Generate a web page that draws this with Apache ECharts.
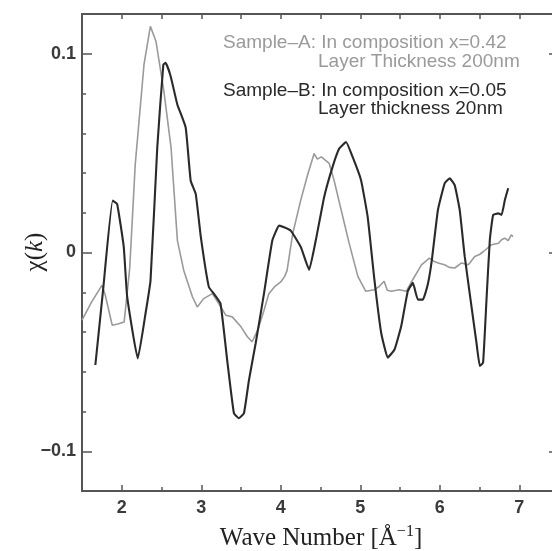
<!DOCTYPE html>
<html>
<head>
<meta charset="utf-8">
<script src="https://cdn.jsdelivr.net/npm/echarts@6/dist/echarts.min.js"></script>
<style>
html,body{margin:0;padding:0;background:#fff;}
#chart{width:552px;height:551px;}
</style>
</head>
<body>
<div id="chart"></div>
<script>
// Sample-A (gray): wave number k and chi(k)
const kA = [1.50,1.62,1.75,1.79,1.88,1.95,2.03,2.10,2.17,2.28,2.36,2.43,2.53,2.62,2.70,2.78,2.89,2.95,3.03,3.14,3.22,3.31,3.39,3.50,3.58,3.64,3.71,3.79,3.85,3.92,4.00,4.05,4.08,4.15,4.25,4.34,4.42,4.46,4.51,4.61,4.67,4.76,4.86,4.97,5.07,5.18,5.24,5.30,5.34,5.39,5.49,5.58,5.66,5.77,5.87,5.93,5.98,6.06,6.12,6.19,6.27,6.36,6.44,6.50,6.55,6.65,6.74,6.78,6.82,6.86,6.90,6.92];
const chiA = [-0.034,-0.025,-0.0165,-0.021,-0.0366,-0.036,-0.035,-0.008,0.0445,0.0946,0.1138,0.1063,0.0812,0.0528,0.0060,-0.0090,-0.0224,-0.0274,-0.0232,-0.0207,-0.0257,-0.0316,-0.0324,-0.0374,-0.0424,-0.0449,-0.0391,-0.0291,-0.0207,-0.0173,-0.0148,-0.0120,-0.0090,0.0094,0.0261,0.0394,0.0498,0.0470,0.0481,0.0448,0.0364,0.0214,0.0047,-0.0120,-0.0195,-0.0187,-0.0170,-0.0145,-0.0190,-0.0195,-0.0187,-0.0195,-0.0137,-0.0062,-0.0028,-0.0045,-0.0053,-0.0062,-0.0075,-0.0078,-0.0053,-0.0062,-0.0020,-0.0010,0.0005,0.0039,0.0047,0.0065,0.0072,0.0060,0.0089,0.0080];

// Sample-B (black)
const kB = [1.668,1.765,1.886,1.942,2.025,2.068,2.202,2.299,2.362,2.447,2.523,2.552,2.615,2.699,2.804,2.867,2.931,2.994,3.095,3.158,3.242,3.326,3.411,3.473,3.537,3.600,3.684,3.789,3.894,3.979,4.042,4.126,4.253,4.357,4.442,4.547,4.652,4.736,4.821,4.904,5.010,5.093,5.178,5.263,5.346,5.431,5.515,5.598,5.662,5.725,5.788,5.850,5.900,5.977,6.062,6.125,6.188,6.251,6.314,6.399,6.462,6.504,6.545,6.588,6.630,6.672,6.735,6.778,6.819,6.861];
const chiB = [-0.0566,-0.0190,0.0261,0.0244,0.0029,-0.0222,-0.0533,-0.0307,-0.0140,0.0530,0.0946,0.0954,0.0887,0.0745,0.0629,0.0361,0.0294,0.0080,-0.0173,-0.0207,-0.0257,-0.0541,-0.0809,-0.0834,-0.0809,-0.0642,-0.0458,-0.0207,0.0060,0.0135,0.0127,0.0110,0.0027,-0.0087,0.0064,0.0281,0.0431,0.0523,0.0556,0.0481,0.0364,0.0180,-0.0137,-0.0404,-0.0529,-0.0488,-0.0371,-0.0195,-0.0153,-0.0237,-0.0237,-0.0160,-0.0040,0.0214,0.0348,0.0373,0.0339,0.0214,-0.0020,-0.0271,-0.0454,-0.0571,-0.0554,-0.0237,0.0064,0.0189,0.0197,0.0189,0.0264,0.0323];

const xTickLabels = [2,3,4,5,6,7];
const yTickLabels = [-0.1,0,0.1];

const legendA = ['Sample\u2013A: In composition x=0.42', 'Layer Thickness 200nm'];
const legendB = ['Sample\u2013B: In composition x=0.05', 'Layer thickness 20nm'];

const dataA = kA.map((k,i)=>[k,chiA[i]]);
const dataB = kB.map((k,i)=>[k,chiB[i]]);

const axisColor = '#555';
const xMin = 1.5, xMax = 7.5, yMin = -0.12, yMax = 0.12;

function yFmt(v){
  if (Math.abs(v) < 1e-9) return '0';
  if (Math.abs(v - 0.1) < 1e-9) return '0.1';
  if (Math.abs(v + 0.1) < 1e-9) return '\u22120.1';
  return '';
}
function xFmt(v){
  return Math.abs(v - Math.round(v)) < 1e-6 && xTickLabels.indexOf(Math.round(v)) >= 0 ? String(Math.round(v)) : '';
}
const labelStyle = {color:'#3a3a3a', fontFamily:'Liberation Sans', fontSize:18, fontWeight:'bold'};
const lineOn = {onZero:false, lineStyle:{color:axisColor, width:2}};
const lineOff = {show:false, onZero:false};

const chart = echarts.init(document.getElementById('chart'), null, {renderer:'canvas'});
chart.setOption({
  animation:false,
  backgroundColor:'#fff',
  grid:{left:82, right:-7, top:14, bottom:60, containLabel:false, outerBoundsMode:'none'},
  xAxis:[
    {type:'value', position:'bottom', min:xMin, max:xMax, interval:0.5,
     axisLine:lineOn,
     axisTick:{inside:true, length:4, lineStyle:{color:axisColor, width:1.5}},
     axisLabel:Object.assign({formatter:xFmt, margin:8, showMinLabel:true, showMaxLabel:true}, labelStyle),
     splitLine:{show:false}},
    {type:'value', position:'bottom', min:xMin, max:xMax,
     axisLine:lineOff,
     axisTick:{show:true, inside:true, length:6, customValues:xTickLabels, lineStyle:{color:axisColor, width:1.5}},
     axisLabel:{show:false}, splitLine:{show:false}},
    {type:'value', position:'top', min:xMin, max:xMax, interval:0.5,
     axisLine:lineOn,
     axisTick:{inside:true, length:5, lineStyle:{color:axisColor, width:1.5}},
     axisLabel:{show:false}, splitLine:{show:false}}
  ],
  yAxis:[
    {type:'value', position:'left', min:yMin, max:yMax, interval:0.02,
     axisLine:lineOn,
     axisTick:{inside:true, length:4, lineStyle:{color:axisColor, width:1.5}},
     axisLabel:Object.assign({formatter:yFmt, margin:6}, labelStyle),
     splitLine:{show:false}},
    {type:'value', position:'left', min:yMin, max:yMax,
     axisLine:lineOff,
     axisTick:{show:true, inside:true, length:10, customValues:yTickLabels, lineStyle:{color:axisColor, width:1.5}},
     axisLabel:{show:false}, splitLine:{show:false}},
    {type:'value', position:'right', min:yMin, max:yMax, interval:0.02,
     axisLine:lineOn,
     axisTick:{inside:true, length:4, lineStyle:{color:axisColor, width:1.5}},
     axisLabel:{show:false}, splitLine:{show:false}},
    {type:'value', position:'right', min:yMin, max:yMax,
     axisLine:lineOff,
     axisTick:{show:true, inside:true, length:10, customValues:yTickLabels, lineStyle:{color:axisColor, width:1.5}},
     axisLabel:{show:false}, splitLine:{show:false}}
  ],
  series:[
    {name:'Sample-A', type:'line', xAxisIndex:0, yAxisIndex:0, data:dataA, showSymbol:false,
     lineStyle:{color:'#9a9a9a', width:1.6}, z:2},
    {name:'Sample-B', type:'line', xAxisIndex:0, yAxisIndex:0, data:dataB, showSymbol:false, smooth:0.12,
     lineStyle:{color:'#2a2a2a', width:2.1}, z:3}
  ],
  graphic:[
    {type:'text', x:223, y:43, style:{text:legendA[0], fill:'#9a9a9a', font:'19px "Liberation Sans"', verticalAlign:'middle'}},
    {type:'text', x:318, y:62, style:{text:legendA[1], fill:'#9a9a9a', font:'19px "Liberation Sans"', verticalAlign:'middle'}},
    {type:'text', x:223, y:91, style:{text:legendB[0], fill:'#2a2a2a', font:'19px "Liberation Sans"', verticalAlign:'middle'}},
    {type:'text', x:318, y:109, style:{text:legendB[1], fill:'#2a2a2a', font:'19px "Liberation Sans"', verticalAlign:'middle'}},
    {type:'text', x:35, y:252, rotation:Math.PI/2,
     style:{text:'{a|\u03C7(}{b|k}{a|)}', align:'center', verticalAlign:'middle',
       rich:{a:{fontFamily:'Liberation Serif', fontSize:25, fill:'#222'},
             b:{fontFamily:'Liberation Serif', fontSize:25, fontStyle:'italic', fill:'#222'}}}},
    {type:'text', x:321, y:538,
     style:{text:'{a|Wave Number [\u00C5}{s|\u22121}{a|]}', align:'center', verticalAlign:'middle',
       rich:{a:{fontFamily:'Liberation Serif', fontSize:25, fill:'#222', lineHeight:28},
             s:{fontFamily:'Liberation Serif', fontSize:16, fill:'#222', verticalAlign:'top', lineHeight:28}}}}
  ]
});
</script>
</body>
</html>
